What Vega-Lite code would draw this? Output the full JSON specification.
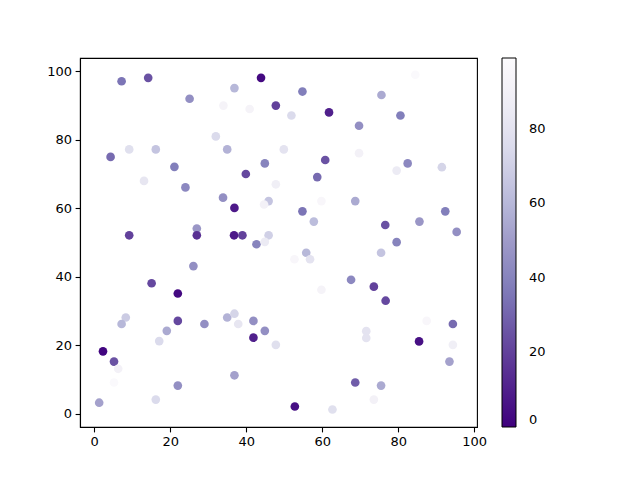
{
  "$schema": "https://vega.github.io/schema/vega-lite/v6.json",
  "autosize": {"type": "none"},
  "padding": {"left": 80, "top": 58, "right": 163, "bottom": 53},
  "width": 397,
  "height": 369,
  "background": "white",
  "config": {
    "view": {"stroke": "black", "strokeWidth": 1.1},
    "font": "DejaVu Sans",
    "axis": {"grid": false, "domainColor": "black", "domainWidth": 1.1, "tickColor": "black", "tickWidth": 1.1, "tickSize": 4.9, "labelPadding": 3.5, "labelFontSize": 13, "labelColor": "black", "labelFont": "DejaVu Sans", "title": null},
    "legend": {"labelFont": "DejaVu Sans", "labelFontSize": 13, "labelColor": "black"}
  },
  "data": {"values": [
    {"x": 7.2, "y": 97.1, "c": 35}, {"x": 14.2, "y": 98.1, "c": 25}, {"x": 43.9, "y": 98.1, "c": 3},
    {"x": 36.9, "y": 95.1, "c": 60}, {"x": 25.1, "y": 92, "c": 45}, {"x": 47.8, "y": 90, "c": 20},
    {"x": 34, "y": 90, "c": 92}, {"x": 40.9, "y": 89, "c": 92}, {"x": 32, "y": 81, "c": 75},
    {"x": 9.2, "y": 77.2, "c": 78}, {"x": 16.2, "y": 77.2, "c": 65}, {"x": 35, "y": 77.2, "c": 58},
    {"x": 4.3, "y": 75, "c": 32}, {"x": 21.1, "y": 72.1, "c": 38}, {"x": 44.9, "y": 73.1, "c": 40},
    {"x": 39.9, "y": 70, "c": 22}, {"x": 13.1, "y": 68, "c": 82}, {"x": 47.8, "y": 67, "c": 88},
    {"x": 24, "y": 66.1, "c": 42}, {"x": 33.9, "y": 63.1, "c": 45}, {"x": 36.9, "y": 60.1, "c": 8},
    {"x": 45.9, "y": 62.1, "c": 65}, {"x": 44.7, "y": 61.1, "c": 90}, {"x": 9.2, "y": 52.1, "c": 20},
    {"x": 27, "y": 54.1, "c": 48}, {"x": 27, "y": 52.1, "c": 15}, {"x": 36.8, "y": 52.1, "c": 8},
    {"x": 39, "y": 52.1, "c": 20}, {"x": 42.7, "y": 49.5, "c": 40}, {"x": 45.9, "y": 52.1, "c": 70},
    {"x": 44.9, "y": 50.2, "c": 85}, {"x": 49.9, "y": 77.2, "c": 80},
    {"x": 84.5, "y": 99, "c": 97}, {"x": 54.8, "y": 94.1, "c": 38}, {"x": 75.6, "y": 93.1, "c": 55},
    {"x": 51.9, "y": 87.1, "c": 75}, {"x": 61.8, "y": 88, "c": 10}, {"x": 80.6, "y": 87.1, "c": 38},
    {"x": 69.7, "y": 84.1, "c": 45}, {"x": 69.7, "y": 76.1, "c": 90}, {"x": 60.8, "y": 74.1, "c": 25},
    {"x": 82.5, "y": 73.1, "c": 42}, {"x": 79.6, "y": 71, "c": 85}, {"x": 91.5, "y": 72, "c": 72},
    {"x": 58.7, "y": 69.1, "c": 32}, {"x": 59.8, "y": 62.1, "c": 95}, {"x": 68.7, "y": 62.1, "c": 55},
    {"x": 54.8, "y": 59.1, "c": 35}, {"x": 57.8, "y": 56.1, "c": 62}, {"x": 92.4, "y": 59.1, "c": 38},
    {"x": 76.6, "y": 55.1, "c": 25}, {"x": 85.6, "y": 56.1, "c": 48}, {"x": 95.4, "y": 53.1, "c": 45},
    {"x": 79.6, "y": 50.1, "c": 40},
    {"x": 55.8, "y": 47, "c": 60}, {"x": 75.5, "y": 47, "c": 65}, {"x": 52.7, "y": 45.1, "c": 95},
    {"x": 56.8, "y": 45.1, "c": 80}, {"x": 67.6, "y": 39.1, "c": 42}, {"x": 73.6, "y": 37.1, "c": 20},
    {"x": 59.8, "y": 36.2, "c": 92}, {"x": 76.7, "y": 33, "c": 22}, {"x": 87.5, "y": 27.1, "c": 95},
    {"x": 94.4, "y": 26.2, "c": 32}, {"x": 71.6, "y": 24.1, "c": 80}, {"x": 71.6, "y": 22.1, "c": 80},
    {"x": 85.5, "y": 21.1, "c": 5}, {"x": 94.4, "y": 20.1, "c": 88}, {"x": 93.5, "y": 15.2, "c": 52},
    {"x": 68.7, "y": 9.1, "c": 28}, {"x": 75.5, "y": 8.2, "c": 55}, {"x": 73.6, "y": 4.1, "c": 90},
    {"x": 52.8, "y": 2.1, "c": 5}, {"x": 62.7, "y": 1.2, "c": 78},
    {"x": 26.1, "y": 43.1, "c": 45}, {"x": 15.1, "y": 38.1, "c": 22}, {"x": 22, "y": 35.1, "c": 3},
    {"x": 22, "y": 27.1, "c": 22}, {"x": 8.3, "y": 28.1, "c": 68}, {"x": 7.2, "y": 26.2, "c": 60},
    {"x": 29, "y": 26.2, "c": 45}, {"x": 19.1, "y": 24.2, "c": 55}, {"x": 17.1, "y": 21.2, "c": 75},
    {"x": 35, "y": 28.1, "c": 58}, {"x": 36.9, "y": 29.2, "c": 72}, {"x": 37.9, "y": 26.2, "c": 82},
    {"x": 41.9, "y": 27.1, "c": 45}, {"x": 44.9, "y": 24.2, "c": 45}, {"x": 41.9, "y": 22.2, "c": 10},
    {"x": 47.8, "y": 20.1, "c": 78}, {"x": 2.3, "y": 18.2, "c": 2}, {"x": 5.2, "y": 15.2, "c": 25},
    {"x": 6.3, "y": 13.1, "c": 90}, {"x": 5.2, "y": 9.1, "c": 97}, {"x": 36.9, "y": 11.2, "c": 52},
    {"x": 22, "y": 8.2, "c": 45}, {"x": 1.3, "y": 3.2, "c": 52}, {"x": 16.2, "y": 4.1, "c": 75}
  ]},
  "mark": {"type": "circle", "size": 75, "opacity": 1},
  "encoding": {
    "x": {"field": "x", "type": "quantitative", "scale": {"domain": [-3.75, 100.75], "nice": false, "zero": false}, "axis": {"values": [0, 20, 40, 60, 80, 100]}},
    "y": {"field": "y", "type": "quantitative", "scale": {"domain": [-3.9, 103.9], "nice": false, "zero": false}, "axis": {"values": [0, 20, 40, 60, 80, 100]}},
    "color": {"field": "c", "type": "quantitative",
      "scale": {"domain": [0, 12.375, 24.75, 37.125, 49.5, 61.875, 74.25, 86.625, 99],
                "range": ["#3f007d", "#54278f", "#6a51a3", "#807dba", "#9e9ac8", "#bcbddc", "#dadaeb", "#efedf5", "#fcfbfd"],
                "interpolate": "rgb"},
      "legend": {"title": null, "orient": "right", "offset": 25, "direction": "vertical", "gradientLength": 369, "gradientThickness": 14, "gradientStrokeColor": "black", "gradientStrokeWidth": 1, "values": [0, 20, 40, 60, 80], "labelOverlap": false, "labelOffset": 13, "labelBaseline": "middle"}}
  }
}
